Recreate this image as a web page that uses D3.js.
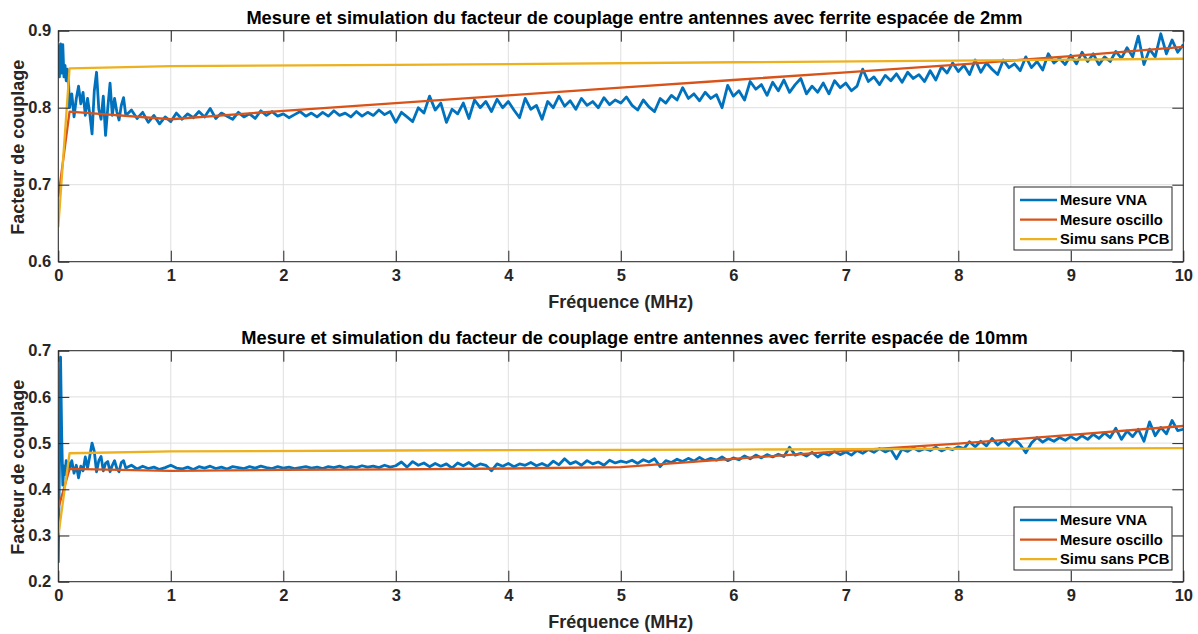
<!DOCTYPE html>
<html>
<head>
<meta charset="utf-8">
<script src="https://cdn.jsdelivr.net/npm/d3@7"></script>
<style>
  html, body { margin: 0; padding: 0; background: #ffffff; }
  svg { display: block; font-family: "Liberation Sans", Arial, Helvetica, sans-serif; }
</style>
</head>
<body>
<svg id="chart" width="1198" height="634"></svg>
<script>
// ---------------- DATA ----------------
const seriesNames = ["Mesure VNA", "Mesure oscillo", "Simu sans PCB"];
const titles = [
  "Mesure et simulation du facteur de couplage entre antennes avec ferrite espacée de 2mm",
  "Mesure et simulation du facteur de couplage entre antennes avec ferrite espacée de 10mm"
];
const xTicks = [0, 1, 2, 3, 4, 5, 6, 7, 8, 9, 10];
const yTicksTop = [0.6, 0.7, 0.8, 0.9];
const yTicksBottom = [0.2, 0.3, 0.4, 0.5, 0.6, 0.7];

// VNA frequency grid (MHz)
const vnaFreq = [
  0, 0.01, 0.02, 0.03, 0.04, 0.05, 0.06, 0.07, 0.08, 0.09,
  0.10, 0.12, 0.14, 0.16, 0.18, 0.20, 0.22, 0.24, 0.26, 0.28,
  0.30, 0.32, 0.34, 0.36, 0.38, 0.40, 0.42, 0.44, 0.46, 0.48,
  0.50, 0.52, 0.54, 0.56, 0.58, 0.60,
  0.65, 0.70, 0.75, 0.80, 0.85, 0.90, 0.95, 1.00,
  1.05, 1.10, 1.15, 1.20, 1.25, 1.30, 1.35, 1.40, 1.45, 1.50,
  1.55, 1.60, 1.65, 1.70, 1.75, 1.80, 1.85, 1.90, 1.95, 2.00,
  2.05, 2.10, 2.15, 2.20, 2.25, 2.30, 2.35, 2.40, 2.45, 2.50,
  2.55, 2.60, 2.65, 2.70, 2.75, 2.80, 2.85, 2.90, 2.95, 3.00,
  3.05, 3.10, 3.15, 3.20, 3.25, 3.30, 3.35, 3.40, 3.45, 3.50,
  3.55, 3.60, 3.65, 3.70, 3.75, 3.80, 3.85, 3.90, 3.95, 4.00,
  4.05, 4.10, 4.15, 4.20, 4.25, 4.30, 4.35, 4.40, 4.45, 4.50,
  4.55, 4.60, 4.65, 4.70, 4.75, 4.80, 4.85, 4.90, 4.95, 5.00,
  5.05, 5.10, 5.15, 5.20, 5.25, 5.30, 5.35, 5.40, 5.45, 5.50,
  5.55, 5.60, 5.65, 5.70, 5.75, 5.80, 5.85, 5.90, 5.95, 6.00,
  6.05, 6.10, 6.15, 6.20, 6.25, 6.30, 6.35, 6.40, 6.45, 6.50,
  6.55, 6.60, 6.65, 6.70, 6.75, 6.80, 6.85, 6.90, 6.95, 7.00,
  7.05, 7.10, 7.15, 7.20, 7.25, 7.30, 7.35, 7.40, 7.45, 7.50,
  7.55, 7.60, 7.65, 7.70, 7.75, 7.80, 7.85, 7.90, 7.95, 8.00,
  8.05, 8.10, 8.15, 8.20, 8.25, 8.30, 8.35, 8.40, 8.45, 8.50,
  8.55, 8.60, 8.65, 8.70, 8.75, 8.80, 8.85, 8.90, 8.95, 9.00,
  9.05, 9.10, 9.15, 9.20, 9.25, 9.30, 9.35, 9.40, 9.45, 9.50,
  9.55, 9.60, 9.65, 9.70, 9.75, 9.80, 9.85, 9.90, 9.95, 10.00
];

// Mesure VNA, ferrite 2mm
const vna2mm = [
  0.882, 0.840, 0.883, 0.845, 0.882, 0.840, 0.855, 0.835, 0.850, 0.838,
  0.800, 0.818, 0.788, 0.812, 0.828, 0.805, 0.820, 0.790, 0.812, 0.792,
  0.766, 0.822, 0.846, 0.798, 0.785, 0.815, 0.764, 0.800, 0.832, 0.790,
  0.812, 0.795, 0.784, 0.803, 0.813, 0.790,
  0.797, 0.786, 0.794, 0.781, 0.790, 0.779, 0.788, 0.782,
  0.793, 0.785, 0.792, 0.787, 0.795, 0.788, 0.799, 0.786, 0.793, 0.789,
  0.785, 0.794, 0.788, 0.792, 0.786, 0.796, 0.790, 0.795, 0.789, 0.792,
  0.787, 0.791, 0.795, 0.789, 0.793, 0.788, 0.794, 0.789, 0.796, 0.790,
  0.793, 0.788, 0.795, 0.789, 0.794, 0.790, 0.797, 0.791, 0.795, 0.781,
  0.794, 0.788, 0.782, 0.800, 0.793, 0.815, 0.797, 0.806, 0.781, 0.798,
  0.792, 0.806, 0.786, 0.810, 0.800, 0.808, 0.795, 0.811, 0.800, 0.808,
  0.797, 0.787, 0.812, 0.798, 0.803, 0.785, 0.808, 0.800, 0.815, 0.802,
  0.809, 0.798, 0.812, 0.803, 0.808, 0.800, 0.813, 0.804, 0.810, 0.806,
  0.814, 0.803, 0.797, 0.810, 0.801, 0.795, 0.812, 0.806, 0.816, 0.810,
  0.826, 0.812, 0.818, 0.809, 0.820, 0.812, 0.817, 0.800, 0.829, 0.815,
  0.822, 0.810, 0.834, 0.824, 0.830, 0.816, 0.833, 0.822, 0.836, 0.820,
  0.830, 0.838, 0.818, 0.828, 0.820, 0.832, 0.818, 0.835, 0.826, 0.832,
  0.822, 0.828, 0.850, 0.834, 0.840, 0.830, 0.842, 0.835, 0.844, 0.833,
  0.846, 0.838, 0.843, 0.834, 0.848, 0.836, 0.853, 0.845, 0.858, 0.847,
  0.855, 0.843, 0.862, 0.846, 0.858, 0.850, 0.843, 0.862, 0.852, 0.857,
  0.848, 0.866, 0.852, 0.860, 0.849, 0.870, 0.858, 0.864, 0.856, 0.868,
  0.857, 0.872, 0.860, 0.870, 0.856, 0.866, 0.860, 0.873, 0.864, 0.878,
  0.866, 0.893, 0.856, 0.876, 0.866, 0.896, 0.870, 0.888, 0.872, 0.882
];

// Mesure VNA, ferrite 10mm
const vna10mm = [
  0.241, 0.450, 0.686, 0.520, 0.409, 0.450, 0.432, 0.462, 0.440, 0.458,
  0.445, 0.462, 0.435, 0.452, 0.425, 0.450, 0.440, 0.470, 0.446, 0.472,
  0.500, 0.482, 0.438, 0.462, 0.471, 0.440, 0.456, 0.460, 0.438, 0.452,
  0.462, 0.445, 0.438, 0.458, 0.462, 0.446,
  0.452, 0.444, 0.450, 0.445, 0.448, 0.443, 0.447, 0.452,
  0.446, 0.444, 0.448, 0.443, 0.449, 0.446, 0.450, 0.445, 0.448, 0.444,
  0.449, 0.447, 0.445, 0.449, 0.446, 0.450, 0.447, 0.445, 0.449, 0.446,
  0.448, 0.445, 0.447, 0.449, 0.446, 0.448, 0.445, 0.449, 0.447, 0.450,
  0.446, 0.449, 0.447, 0.451, 0.448, 0.450, 0.447, 0.452, 0.448, 0.451,
  0.459, 0.448, 0.460, 0.452, 0.457, 0.449, 0.456, 0.450, 0.455, 0.446,
  0.457, 0.451, 0.458, 0.449, 0.455, 0.452, 0.440, 0.455, 0.450, 0.456,
  0.449, 0.455, 0.452, 0.458, 0.451, 0.456, 0.450, 0.461, 0.453, 0.466,
  0.455, 0.460, 0.452, 0.462, 0.455, 0.459, 0.452, 0.463, 0.457, 0.461,
  0.458, 0.463, 0.456, 0.464, 0.459, 0.466, 0.449, 0.462, 0.458, 0.465,
  0.460, 0.467, 0.461, 0.469, 0.462, 0.467, 0.463, 0.470, 0.462, 0.468,
  0.464, 0.472, 0.466, 0.474, 0.468, 0.475, 0.470, 0.476, 0.471, 0.491,
  0.474, 0.478, 0.472, 0.480, 0.470, 0.478, 0.474, 0.482, 0.475, 0.481,
  0.474, 0.484, 0.478, 0.486, 0.480, 0.488, 0.481, 0.486, 0.466, 0.487,
  0.482, 0.490, 0.483, 0.488, 0.484, 0.491, 0.483, 0.489, 0.486, 0.492,
  0.488, 0.503, 0.492, 0.504, 0.494, 0.510, 0.496, 0.506, 0.495, 0.508,
  0.497, 0.479, 0.500, 0.512, 0.502, 0.510, 0.504, 0.512, 0.506, 0.514,
  0.507, 0.516, 0.508, 0.519, 0.510, 0.522, 0.512, 0.532, 0.508, 0.526,
  0.514, 0.530, 0.504, 0.546, 0.516, 0.534, 0.520, 0.549, 0.527, 0.530
];

// Mesure oscillo
const oscFreq = [0, 0.1, 1, 2, 3, 4, 5, 6, 7, 8, 9, 10];
const osc2mm  = [0.684, 0.795, 0.785, 0.796, 0.806, 0.816, 0.826, 0.836, 0.846, 0.856, 0.867, 0.879];
const osc10mm = [0.359, 0.444, 0.440, 0.442, 0.443, 0.445, 0.448, 0.466, 0.483, 0.499, 0.518, 0.537];

// Simu sans PCB
const simFreq = [0, 0.1, 1, 3, 6, 10];
const sim2mm  = [0.645, 0.851, 0.854, 0.8555, 0.859, 0.8636];
const sim10mm = [0.299, 0.478, 0.482, 0.484, 0.486, 0.489];

// ---------------- DRAWING ----------------
const colors = ["#0072BD", "#D95319", "#EDB120"];
const widths = [2.8, 2.3, 2.3];
const svg = d3.select("#chart");
const left = 58.3, right = 1183.3;

const panels = [
  { top: 30.7, bottom: 261.7, domain: [0.6, 0.9], yTicks: yTicksTop, title: titles[0],
    series: [[vnaFreq, vna2mm], [oscFreq, osc2mm], [simFreq, sim2mm]], legendTop: 187 },
  { top: 350.7, bottom: 581.7, domain: [0.2, 0.7], yTicks: yTicksBottom, title: titles[1],
    series: [[vnaFreq, vna10mm], [oscFreq, osc10mm], [simFreq, sim10mm]], legendTop: 507 }
];

const x = d3.scaleLinear().domain([0, 10]).range([left, right]);
const axisColor = "#262626";
const tickLen = 11;

panels.forEach((p, pi) => {
  const y = d3.scaleLinear().domain(p.domain).range([p.bottom, p.top]);
  const g = svg.append("g");

  // grid
  g.append("g").selectAll("line").data(xTicks).join("line")
    .attr("x1", d => x(d)).attr("x2", d => x(d))
    .attr("y1", p.top).attr("y2", p.bottom)
    .attr("stroke", "#dfdfdf").attr("stroke-width", 1);
  g.append("g").selectAll("line").data(p.yTicks).join("line")
    .attr("x1", left).attr("x2", right)
    .attr("y1", d => y(d)).attr("y2", d => y(d))
    .attr("stroke", "#dfdfdf").attr("stroke-width", 1);

  // clip
  const clipId = "clip" + pi;
  svg.append("clipPath").attr("id", clipId).append("rect")
    .attr("x", left).attr("y", p.top).attr("width", right - left).attr("height", p.bottom - p.top);

  // series
  const lines = g.append("g").attr("clip-path", `url(#${clipId})`);
  p.series.forEach((s, si) => {
    const pts = s[0].map((f, i) => [f, s[1][i]]);
    lines.append("path")
      .datum(pts)
      .attr("fill", "none")
      .attr("stroke", colors[si])
      .attr("stroke-width", widths[si])
      .attr("stroke-linejoin", "round")
      .attr("d", d3.line().x(d => x(d[0])).y(d => y(d[1])));
  });

  // axes with inward ticks
  const xAxis = d3.axisBottom(x).tickValues(xTicks).tickFormat(d3.format("d"))
    .tickSizeInner(-tickLen).tickSizeOuter(0).tickPadding(8);
  const gx = g.append("g").attr("transform", `translate(0,${p.bottom})`).call(xAxis);
  const yAxis = d3.axisLeft(y).tickValues(p.yTicks).tickFormat(d3.format(".1f"))
    .tickSizeInner(-tickLen).tickSizeOuter(0).tickPadding(7);
  const gy = g.append("g").attr("transform", `translate(${left},0)`).call(yAxis);
  const gxt = g.append("g").attr("transform", `translate(0,${p.top})`)
    .call(d3.axisTop(x).tickValues(xTicks).tickFormat("").tickSizeInner(-tickLen).tickSizeOuter(0));
  const gyr = g.append("g").attr("transform", `translate(${right},0)`)
    .call(d3.axisRight(y).tickValues(p.yTicks).tickFormat("").tickSizeInner(-tickLen).tickSizeOuter(0));
  [gx, gy, gxt, gyr].forEach(a => {
    a.select(".domain").remove();
    a.selectAll(".tick line").attr("stroke", axisColor).attr("stroke-width", 1);
    a.selectAll(".tick text").attr("fill", axisColor)
      .style("font-size", "16.5px").style("font-weight", "bold")
      .style("font-family", "'Liberation Sans', Arial, sans-serif");
  });

  // box
  g.append("rect").attr("x", left).attr("y", p.top)
    .attr("width", right - left).attr("height", p.bottom - p.top)
    .attr("fill", "none").attr("stroke", axisColor).attr("stroke-width", 1);

  // title
  g.append("text").attr("x", 634.5).attr("y", p.top - 7)
    .attr("text-anchor", "middle").attr("fill", "#000")
    .style("font-size", "18.3px").style("font-weight", "bold")
    .text(p.title);

  // x label
  g.append("text").attr("x", (left + right) / 2).attr("y", p.bottom + 46.5)
    .attr("text-anchor", "middle").attr("fill", axisColor)
    .style("font-size", "18px").style("font-weight", "bold")
    .text("Fréquence (MHz)");

  // y label
  g.append("text")
    .attr("transform", `translate(23.5,${(p.top + p.bottom) / 2 + 1}) rotate(-90)`)
    .attr("text-anchor", "middle").attr("fill", axisColor)
    .style("font-size", "18px").style("font-weight", "bold")
    .text("Facteur de couplage");

  // legend
  const lx = 1014, lw = 158, lh = 63;
  const lg = g.append("g").attr("transform", `translate(${lx},${p.legendTop})`);
  lg.append("rect").attr("width", lw).attr("height", lh)
    .attr("fill", "#ffffff").attr("stroke", axisColor).attr("stroke-width", 1);
  seriesNames.forEach((name, i) => {
    const ry = 13 + i * 19.6;
    lg.append("line").attr("x1", 6).attr("x2", 43).attr("y1", ry).attr("y2", ry)
      .attr("stroke", colors[i]).attr("stroke-width", 2.3);
    lg.append("text").attr("x", 46).attr("y", ry + 5.2)
      .attr("fill", "#000").style("font-size", "14.8px").style("font-weight", "bold")
      .text(name);
  });
});
</script>
</body>
</html>
